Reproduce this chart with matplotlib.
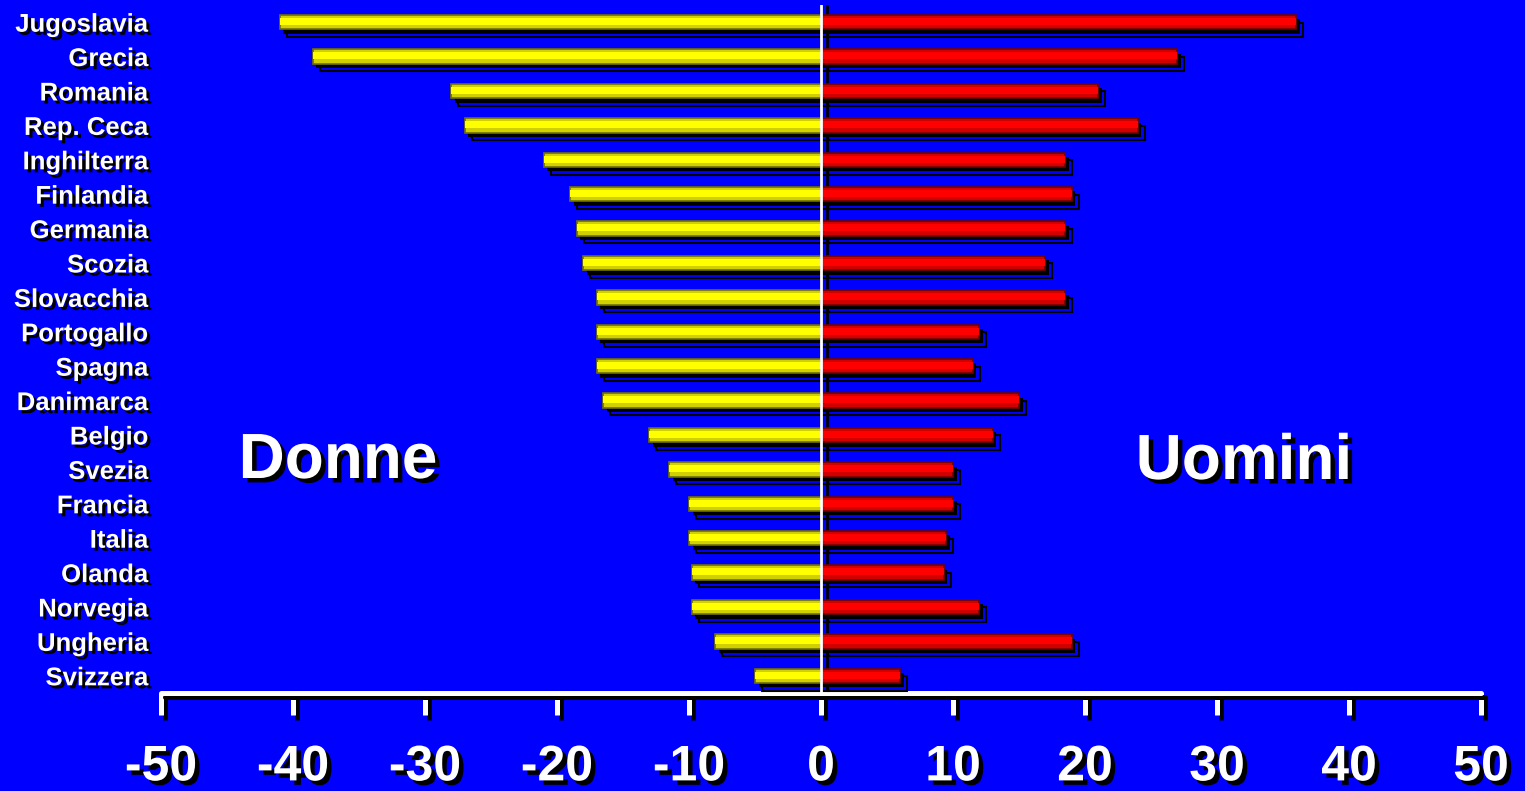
import numpy as np
import matplotlib.pyplot as plt
import matplotlib.patheffects as pe
import matplotlib.transforms as mtransforms

plt.rcParams['font.family'] = ['Liberation Sans', 'DejaVu Sans']
plt.rcParams['font.weight'] = 'bold'

paesi = ['Jugoslavia', 'Grecia', 'Romania', 'Rep. Ceca', 'Inghilterra', 'Finlandia',
         'Germania', 'Scozia', 'Slovacchia', 'Portogallo', 'Spagna', 'Danimarca',
         'Belgio', 'Svezia', 'Francia', 'Italia', 'Olanda', 'Norvegia', 'Ungheria',
         'Svizzera']
donne = [-41, -38.5, -28, -27, -21, -19, -18.5, -18, -17, -17, -17, -16.5,
         -13, -11.5, -10, -10, -9.8, -9.8, -8, -5]
uomini = [36, 27, 21, 24, 18.5, 19, 18.5, 17, 18.5, 12, 11.5, 15,
          13, 10, 10, 9.5, 9.3, 12, 19, 6]
xticks = [-50, -40, -30, -20, -10, 0, 10, 20, 30, 40, 50]

BLUE = '#0000ff'
W, H = 1525, 791

fig = plt.figure(figsize=(W / 100, H / 100), dpi=100, facecolor=BLUE)
ax = fig.add_axes([161 / W, 98 / H, 1320 / W, 688 / H])
ax.set_facecolor(BLUE)

y = np.arange(len(paesi))

bar_fx = [pe.PathPatchEffect(offset=(5, -5.5), facecolor='none', edgecolor='black', linewidth=1.5),
          pe.SimplePatchShadow(offset=(2.6, -3.2), shadow_rgbFace='black', alpha=1),
          pe.Normal()]

# bars: darker body, bright stripe in the middle for the bevel look
for vals, body, light, edge in [(donne, '#d0d000', '#ffff00', '#707000'),
                                (uomini, '#d00000', '#ff0000', '#700000')]:
    bars = ax.barh(y, vals, height=0.42, color=body, edgecolor=edge, linewidth=1.2, zorder=3)
    for b in bars:
        b.set_path_effects(bar_fx)
    ax.barh(y - 0.02, vals, height=0.2, color=light, linewidth=0, zorder=4)

# zero line with its shadow behind the bars
shift = mtransforms.ScaledTranslation(6 / 100, 0, fig.dpi_scale_trans)
ax.plot([0, 0], [0, 1], color='black', lw=2, zorder=1,
        transform=ax.get_xaxis_transform() + shift)
ax.axvline(0, color='white', lw=2, zorder=6)

ax.set_xlim(-50, 50)
ax.set_ylim(len(paesi) - 0.5, -0.5)

for side in ['top', 'right', 'left']:
    ax.spines[side].set_visible(False)
ax.spines['bottom'].set_color('white')
ax.spines['bottom'].set_linewidth(3.6)
ax.spines['bottom'].set_capstyle('round')
ax.spines['bottom'].set_path_effects([
    pe.SimpleLineShadow(offset=(3.2, -3.2), shadow_color='black', alpha=1, rho=1),
    pe.Normal()])

ax.set_xticks(xticks)
ax.set_xticklabels([str(v) for v in xticks])
ax.tick_params(axis='x', direction='out', length=16, width=3.6, color='white',
               pad=21, labelsize=36, labelcolor='white')
for t in ax.xaxis.get_major_ticks():
    t.tick1line.set_path_effects([
        pe.SimpleLineShadow(offset=(3.2, -3.2), shadow_color='black', alpha=1, rho=1),
        pe.Normal()])
    t.tick1line.set_solid_capstyle('round')

ax.set_yticks(y)
ax.set_yticklabels(paesi)
ax.tick_params(axis='y', length=0, pad=9, labelsize=18.5, labelcolor='white')

text_fx = [pe.SimplePatchShadow(offset=(2.2, -2.2), shadow_rgbFace='black', alpha=1), pe.Normal()]
big_fx = [pe.SimplePatchShadow(offset=(3.2, -3.2), shadow_rgbFace='black', alpha=1), pe.Normal()]
for lab in ax.get_yticklabels():
    lab.set_fontweight('bold')
    lab.set_path_effects(text_fx)
for lab in ax.get_xticklabels():
    lab.set_fontweight('bold')
    lab.set_path_effects(big_fx)

fig.text(338 / W, (H - 478) / H, 'Donne', color='white', fontsize=46, fontweight='bold',
         ha='center', va='baseline', path_effects=big_fx)
fig.text(1244 / W, (H - 479) / H, 'Uomini', color='white', fontsize=46, fontweight='bold',
         ha='center', va='baseline', path_effects=big_fx)

fig.savefig('out.png', dpi=100, facecolor=BLUE)
